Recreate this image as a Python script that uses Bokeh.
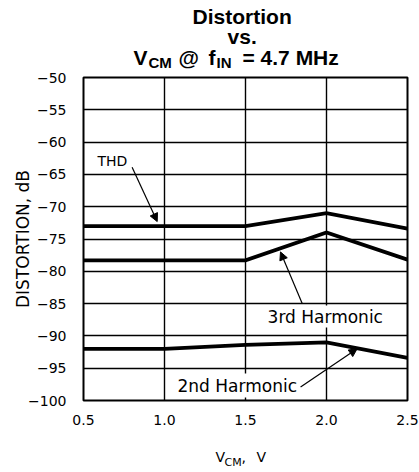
from bokeh.plotting import figure
from bokeh.models import Range1d, FixedTicker, Label, Arrow, NormalHead
from bokeh.layouts import column
from bokeh.embed import file_html
from bokeh.resources import INLINE

# ---- data ----
vcm = [0.5, 1.0, 1.5, 2.0, 2.5]
thd = [-73.0, -73.0, -73.0, -71.0, -73.4]
third_harmonic = [-78.3, -78.3, -78.3, -74.0, -78.2]
second_harmonic = [-92.0, -92.0, -91.4, -91.0, -93.4]

x_ticks = [0.5, 1.0, 1.5, 2.0, 2.5]
x_tick_labels = ["0.5", "1.0", "1.5", "2.0", "2.5"]
y_ticks = [-50, -55, -60, -65, -70, -75, -80, -85, -90, -95, -100]
y_tick_labels = ["\u221250", "\u221255", "\u221260", "\u221265", "\u221270", "\u221275",
                 "\u221280", "\u221285", "\u221290", "\u221295", "\u2212100"]

TICK_FONT = "DejaVu Sans"
TITLE_FONT = "Liberation Sans"
W = 419
LEFT, RIGHT = 83, 12


def add_label(fig, x, y, text, size=14, font=TICK_FONT, style="normal", align="left",
              baseline="middle", pad=None):
    kw = {}
    if pad is not None:
        kw = dict(background_fill_color="white", padding=pad)
    fig.add_layout(Label(x=x, y=y, text=text, text_font=font, text_font_size=f"{size}px",
                         text_font_style=style, text_align=align, text_baseline=baseline,
                         text_color="black", **kw))


def blank_fig(h):
    # frame aligned with the main plot frame; data units equal pixels
    f = figure(width=W, height=h, output_backend="svg", toolbar_location=None,
               x_range=Range1d(LEFT, W - RIGHT), y_range=Range1d(0, h),
               x_axis_location=None, y_axis_location=None,
               min_border_left=LEFT, min_border_right=RIGHT,
               min_border_top=0, min_border_bottom=0)
    f.outline_line_color = None
    f.grid.visible = False
    f.border_fill_color = "white"
    return f


def at_baseline(h, top, base, size):
    """y (data, up from bottom) for a middle-anchored text whose baseline sits at page y=base."""
    return h - (base - top - 0.35 * size)


# ---- title block ----
TH = 70
t = blank_fig(TH)
BIG, SUB = 21, 15
add_label(t, 241.7, at_baseline(TH, 0, 23.0, BIG), "Distortion", BIG, TITLE_FONT, "bold", "center")
add_label(t, 241.7, at_baseline(TH, 0, 43.5, BIG), "vs.", BIG, TITLE_FONT, "bold", "center")
add_label(t, 133, at_baseline(TH, 0, 64.0, BIG), "V", BIG, TITLE_FONT, "bold")
add_label(t, 148, at_baseline(TH, 0, 67.5, SUB), "CM", SUB, TITLE_FONT, "bold")
add_label(t, 178, at_baseline(TH, 0, 64.0, BIG), "@", BIG, TITLE_FONT, "bold")
add_label(t, 208, at_baseline(TH, 0, 64.0, BIG), "f", BIG, TITLE_FONT, "bold")
add_label(t, 216, at_baseline(TH, 0, 67.5, SUB), "IN", SUB, TITLE_FONT, "bold")
add_label(t, 242, at_baseline(TH, 0, 64.0, BIG), "= 4.7 MHz", BIG, TITLE_FONT, "bold")

# ---- main plot ----
TOPB, BOTB = 7, 44
MH = TOPB + 323 + BOTB
p = figure(width=W, height=MH, output_backend="svg", toolbar_location=None,
           x_range=Range1d(0.5, 2.5), y_range=Range1d(-100, -50),
           min_border_left=LEFT, min_border_right=RIGHT, min_border_top=TOPB, min_border_bottom=BOTB)

p.outline_line_color = "black"
p.outline_line_width = 2
p.background_fill_color = "white"
p.border_fill_color = "white"

for ax in (p.xaxis[0], p.yaxis[0]):
    ax.axis_line_color = None
    ax.major_tick_line_color = None
    ax.minor_tick_line_color = None
    ax.major_label_text_font = TICK_FONT
    ax.major_label_text_font_size = "14px"
    ax.major_label_text_color = "black"
p.xaxis[0].major_label_standoff = 8
p.yaxis[0].major_label_standoff = 11

p.xaxis[0].ticker = FixedTicker(ticks=x_ticks)
p.xaxis[0].major_label_overrides = {t_: l for t_, l in zip(x_ticks, x_tick_labels)}
p.yaxis[0].ticker = FixedTicker(ticks=y_ticks)
p.yaxis[0].major_label_overrides = {t_: l for t_, l in zip(y_ticks, y_tick_labels)}

p.yaxis[0].axis_label = "DISTORTION, dB"
p.yaxis[0].axis_label_text_font = TICK_FONT
p.yaxis[0].axis_label_text_font_size = "17px"
p.yaxis[0].axis_label_text_font_style = "normal"
p.yaxis[0].axis_label_text_color = "black"
p.yaxis[0].axis_label_standoff = -8

p.xgrid.grid_line_color = "black"
p.xgrid.grid_line_width = 1.4
p.ygrid.grid_line_color = "black"
p.ygrid.grid_line_width = 1.4
p.xgrid.ticker = FixedTicker(ticks=x_ticks)
p.ygrid.ticker = FixedTicker(ticks=y_ticks)

for series in (thd, third_harmonic, second_harmonic):
    p.line(vcm, series, line_color="black", line_width=3.8, line_join="miter")

add_label(p, 0.586, -63.0, "THD", 14)
add_label(p, 1.630, -87.0, "3rd Harmonic", 17, pad=1)
add_label(p, 1.068, -97.68, "2nd Harmonic", 17, pad=2)


def arrow(x0, y0, x1, y1):
    p.add_layout(Arrow(x_start=x0, y_start=y0, x_end=x1, y_end=y1,
                       line_color="black", line_width=1.2,
                       end=NormalHead(size=8, fill_color="black", line_color="black", line_width=1)))


arrow(0.800, -63.9, 0.955, -72.3)
arrow(1.850, -85.0, 1.716, -77.0)
arrow(1.840, -97.9, 2.189, -92.0)

# ---- x axis label block ----
XTOP = TH + MH
XH = 472 - XTOP
xl = blank_fig(XH)
add_label(xl, 215, at_baseline(XH, XTOP, 461.0, 14), "V", 14)
add_label(xl, 224, at_baseline(XH, XTOP, 466.0, 11), "CM", 11)
add_label(xl, 241, at_baseline(XH, XTOP, 461.0, 14), ",", 14)
add_label(xl, 256, at_baseline(XH, XTOP, 461.0, 14), "V", 14)

layout = column(t, p, xl, spacing=0)
open("out.html", "w").write(file_html(layout, INLINE))
